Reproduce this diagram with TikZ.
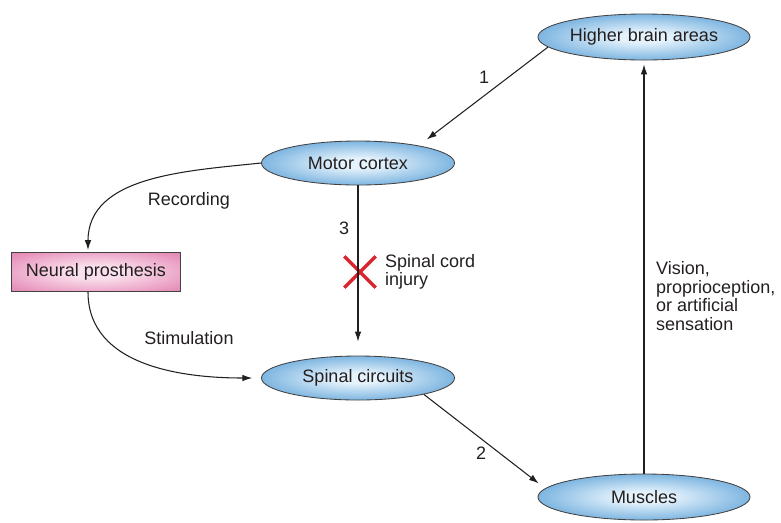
\documentclass[tikz,border=0pt]{standalone}
\usepackage{fontspec}
\setmainfont{Liberation Sans}
\usetikzlibrary{shapes.geometric,shapes.misc,arrows.meta}

\definecolor{ink}{RGB}{35,31,32}
\definecolor{cellin}{RGB}{228,242,252}
\definecolor{cellmid}{RGB}{110,172,220}
\definecolor{cellout}{RGB}{36,108,170}
\definecolor{padin}{RGB}{250,224,236}
\definecolor{padmid}{RGB}{232,150,190}
\definecolor{padout}{RGB}{208,90,145}
\definecolor{cutred}{RGB}{218,35,45}

% light centre, darker rim
\pgfdeclareradialshading{cellshade}{\pgfpointorigin}{color(0bp)=(cellin); color(6bp)=(cellin); color(28bp)=(cellmid); color(50bp)=(cellout)}
\pgfdeclareradialshading{padshade}{\pgfpointorigin}{color(0bp)=(padin); color(8bp)=(padin); color(30bp)=(padmid); color(50bp)=(padout)}

\tikzset{
  area/.style={ellipse, draw=ink!85, line width=0.6pt, shading=cellshade,
    inner sep=0pt, minimum width=5.3cm, minimum height=1.15cm},
  prosth/.style={rectangle, draw=ink!85, line width=0.6pt, shading=padshade,
    inner sep=0pt, minimum width=4.225cm, minimum height=0.975cm},
  cut/.style={cross out, draw=cutred, line width=2.4pt, inner sep=0pt,
    minimum width=0.7cm, minimum height=0.7cm}
}

\begin{document}
\begin{tikzpicture}[x=0.025cm, y=-0.025cm, >={Latex[length=7pt,width=4.6pt]},
    font=\fontsize{12.8}{13.2}\selectfont, color=ink, line width=0.75pt]
  \useasboundingbox (0,0) rectangle (781,522);

  % main blocks
  \node[area] (hb) at (644,37) {Higher brain areas};
  \node[area, minimum width=4.825cm, minimum height=1.1cm] (mc) at (358,163) {Motor cortex};
  \node[prosth] (np) at (96,272) {Neural prosthesis};
  \node[area, minimum width=4.825cm, minimum height=1.1cm] (sc) at (358,378) {Spinal circuits};
  \node[area] (mu) at (644,497) {Muscles};

  % lesion mark
  \node[cut] (lesion) at (360,272) {};

  % labels
  \node (one) at (484,77) {1};
  \node (two) at (481,453) {2};
  \node (three) at (344,228) {3};
  \node (rec) at (189,201) {Recording};
  \node (stim) at (189,338) {Stimulation};
  \node[align=left, anchor=west] (inj) at (380,272) {Spinal cord\\injury};
  \node[align=left, anchor=west] (sense) at (651,296) {Vision,\\proprioception,\\or artificial\\sensation};

  % pathways
  \draw [->, shorten >=0.25cm] (hb.186) -- (mc.16);
  \draw [->, shorten >=0.35cm] (mc.south) -- (sc.north);
  \draw [->, shorten >=0.2cm] (sc.-14) -- (mu.175);
  \draw [->, shorten >=0.1cm] (mu.north) -- (hb.south);
  \draw [->, shorten >=0.05cm] (mc.west) to[out=186, in=90] ([xshift=-0.2cm]np.north);
  \draw [->, shorten >=0.22cm] ([xshift=-0.2cm]np.south) to[out=-90, in=180] (sc.west);
\end{tikzpicture}
\end{document}
